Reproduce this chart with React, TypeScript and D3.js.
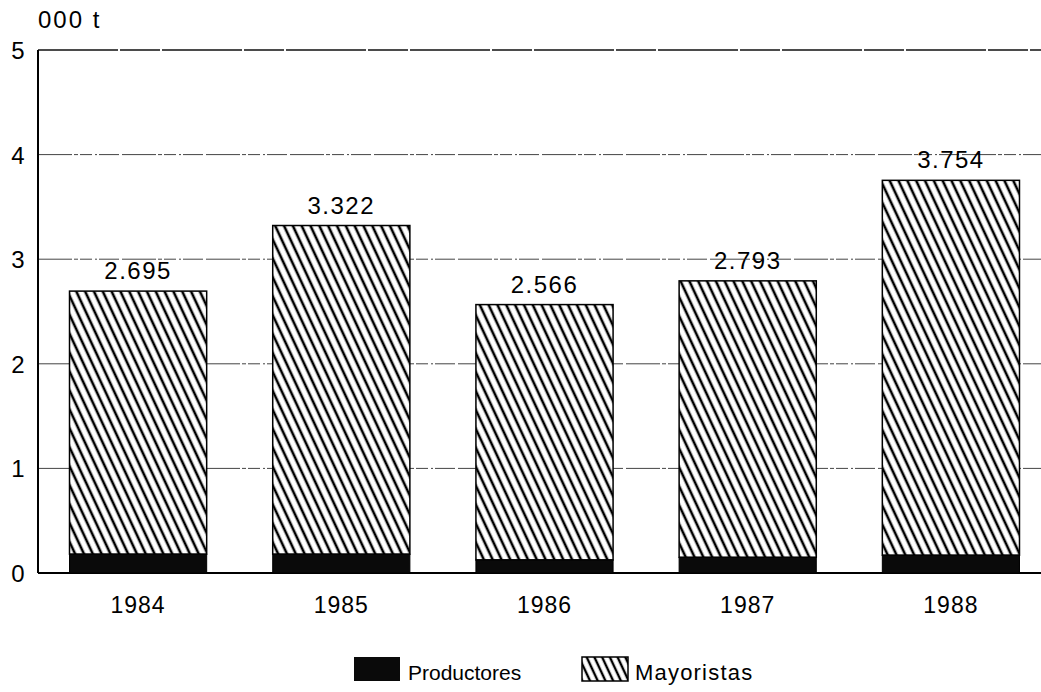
import { useMemo } from "react";
import * as d3 from "d3";

const years = ["1984", "1985", "1986", "1987", "1988"];
const productores = [0.18, 0.18, 0.125, 0.15, 0.17];
const totals = [2.695, 3.322, 2.566, 2.793, 3.754];
const totalLabels = ["2.695", "3.322", "2.566", "2.793", "3.754"];
const yTicks = [0, 1, 2, 3, 4, 5];

const W = 1041;
const H = 692;
const FONT = "'Liberation Sans', Arial, sans-serif";

export default function App() {
  const x = useMemo(
    () => d3.scaleBand<string>().domain(years).range([37, 1052]).paddingInner(0.325).paddingOuter(0.16),
    [],
  );
  const y = useMemo(() => d3.scaleLinear().domain([0, 5]).range([573, 50]), []);

  return (
    <svg width={W} height={H} style={{ position: "absolute", left: 0, top: 0, background: "#fff" }}>
      <defs>
        <pattern id="hatch" width={8} height={8} patternUnits="userSpaceOnUse" patternTransform="rotate(-25)">
          <rect width={8} height={8} fill="#fff" />
          <line x1={2} y1={0} x2={2} y2={8} stroke="#000" strokeWidth={2.6} />
        </pattern>
        <pattern id="hatchLegend" width={7} height={7} patternUnits="userSpaceOnUse" patternTransform="rotate(-25)">
          <rect width={7} height={7} fill="#fff" />
          <line x1={2} y1={0} x2={2} y2={7} stroke="#000" strokeWidth={2.4} />
        </pattern>
      </defs>

      {/* grid */}
      {yTicks.filter((t) => t > 0).map((t) => (
        <line
          key={t}
          x1={38}
          x2={W}
          y1={y(t)}
          y2={y(t)}
          stroke={t === 5 ? "#111" : "#444"}
          strokeWidth={t === 5 ? 1.6 : 1}
          strokeDasharray={t === 5 ? "80 2 40 2" : "34 2 4 2 12 3 2 2 20 3"}
        />
      ))}

      {/* axes */}
      <line x1={38} x2={38} y1={y(5)} y2={y(0)} stroke="#000" strokeWidth={2} />
      <line x1={38} x2={W} y1={y(0)} y2={y(0)} stroke="#000" strokeWidth={2} />
      {yTicks.map((t) => (
        <text key={t} x={18} y={y(t) + 9} textAnchor="middle" fontFamily={FONT} fontSize={24} fill="#000">
          {t}
        </text>
      ))}
      <text x={38} y={28} fontFamily={FONT} fontSize={24} letterSpacing={2} fill="#000">
        000 t
      </text>

      {/* bars */}
      {years.map((yr, i) => {
        const bx = x(yr) ?? 0;
        const bw = x.bandwidth();
        return (
          <g key={yr}>
            <rect
              x={bx}
              width={bw}
              y={y(totals[i])}
              height={y(productores[i]) - y(totals[i])}
              fill="url(#hatch)"
              stroke="#000"
              strokeWidth={1.5}
            />
            <rect
              x={bx}
              width={bw}
              y={y(productores[i])}
              height={y(0) - y(productores[i])}
              fill="#0a0a0a"
              stroke="#000"
              strokeWidth={1}
            />
            <text
              x={bx + bw / 2}
              y={y(totals[i]) - 12}
              textAnchor="middle"
              fontFamily={FONT}
              fontSize={24}
              letterSpacing={1.5}
              fill="#000"
            >
              {totalLabels[i]}
            </text>
            <text
              x={bx + bw / 2}
              y={613}
              textAnchor="middle"
              fontFamily={FONT}
              fontSize={23}
              letterSpacing={1}
              fill="#000"
            >
              {yr}
            </text>
          </g>
        );
      })}

      {/* legend */}
      <rect x={354} y={657} width={46} height={24} fill="#0a0a0a" />
      <text x={408} y={680} fontFamily={FONT} fontSize={21} fill="#000">
        Productores
      </text>
      <rect x={582} y={657} width={46} height={24} fill="url(#hatchLegend)" stroke="#000" strokeWidth={1.5} />
      <text x={635} y={680} fontFamily={FONT} fontSize={22} letterSpacing={1.2} fill="#000">
        Mayoristas
      </text>
    </svg>
  );
}
